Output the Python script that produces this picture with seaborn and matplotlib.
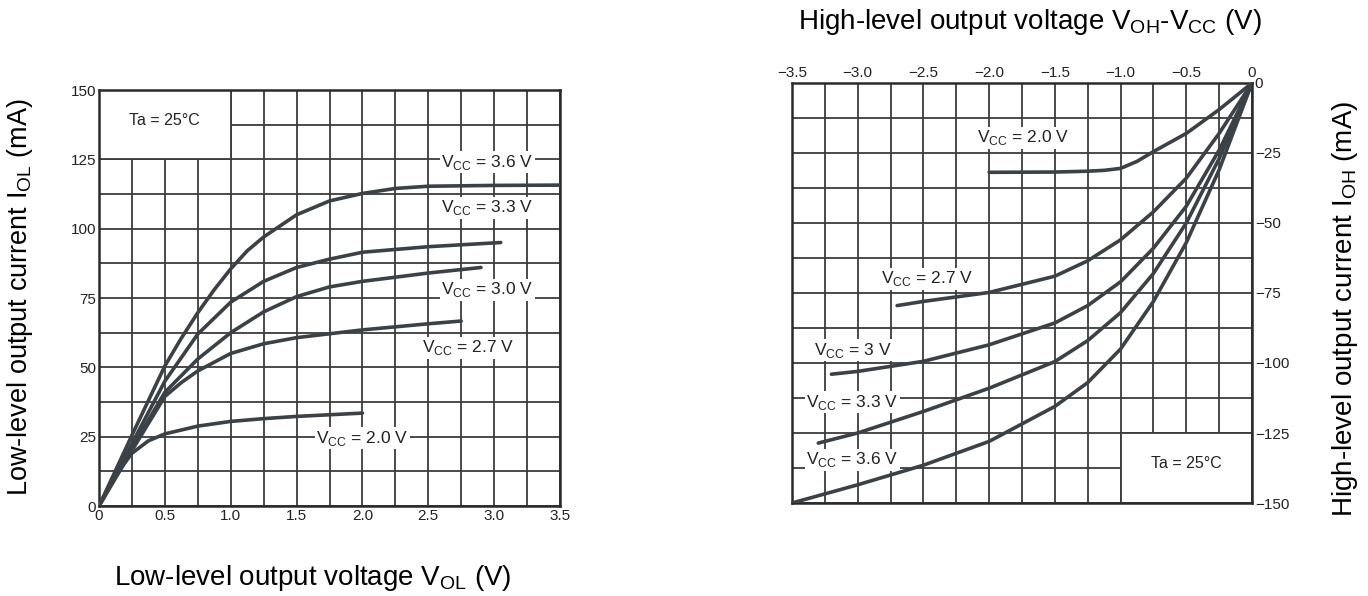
import numpy as np
import pandas as pd
import matplotlib
matplotlib.use("Agg")
import matplotlib.pyplot as plt
from matplotlib.patches import Rectangle
from matplotlib.ticker import MultipleLocator, FixedLocator
import seaborn as sns

# ---------------- data: low-level output (left panel) ----------------
vcc_labels = ["3.6", "3.3", "3.0", "2.7", "2.0"]

vol_36 = [0, 0.25, 0.5, 0.625, 0.75, 0.875, 1.0, 1.125, 1.25, 1.5, 1.75, 2.0, 2.25, 2.5, 3.0, 3.5]
iol_36 = [0, 25.5, 50.5, 60.5, 69.7, 78, 85.5, 92, 97, 105, 110, 112.7, 114.5, 115.3, 115.6, 115.7]
vol_33 = [0, 0.25, 0.5, 0.75, 1.0, 1.25, 1.5, 1.75, 2.0, 2.5, 3.05]
iol_33 = [0, 22.5, 45, 62, 73.5, 81, 86, 89, 91.5, 93.5, 95]
vol_30 = [0, 0.25, 0.5, 0.75, 1.0, 1.25, 1.5, 1.75, 2.0, 2.5, 2.9]
iol_30 = [0, 21, 41, 53, 62.5, 70, 75.5, 79, 81, 84, 86]
vol_27 = [0, 0.25, 0.5, 0.625, 0.75, 1.0, 1.25, 1.5, 2.0, 2.5, 2.75]
iol_27 = [0, 20, 39.5, 44.5, 48.7, 55, 58.5, 60.7, 63.5, 65.7, 66.7]
vol_20 = [0, 0.125, 0.25, 0.375, 0.5, 0.75, 1.0, 1.25, 1.5, 2.0]
iol_20 = [0, 11, 19, 23.5, 26, 28.8, 30.5, 31.5, 32.3, 33.5]

# ---------------- data: high-level output (right panel) ----------------
voh_36 = [-3.5, -3.0, -2.5, -2.0, -1.5, -1.25, -1.0, -0.75, -0.5, -0.25, 0]
ioh_36 = [-150, -143.5, -136.5, -128, -115.5, -107, -95, -78, -57, -31, 0]
voh_33 = [-3.3, -3.0, -2.5, -2.0, -1.5, -1.25, -1.0, -0.75, -0.5, -0.25, 0]
ioh_33 = [-128.6, -125, -117.3, -109, -99.5, -92, -82, -68, -50, -27, 0]
voh_30 = [-3.2, -3.0, -2.5, -2.0, -1.5, -1.25, -1.0, -0.75, -0.5, -0.25, 0]
ioh_30 = [-104, -103, -99.4, -93.5, -85.7, -79.5, -71, -59, -44, -24, 0]
voh_27 = [-2.7, -2.5, -2.0, -1.5, -1.25, -1.0, -0.75, -0.5, -0.25, 0]
ioh_27 = [-79.5, -78, -74.8, -69, -63.5, -56, -46, -34, -18, 0]
voh_20 = [-2.0, -1.5, -1.25, -1.125, -1.0, -0.875, -0.75, -0.5, -0.25, 0]
ioh_20 = [-31.9, -31.8, -31.5, -31.2, -30.5, -28, -24.5, -18, -9.5, 0]

left_ticks_x = [0, 0.5, 1.0, 1.5, 2.0, 2.5, 3.0, 3.5]
left_ticklabels_x = ["0", "0.5", "1.0", "1.5", "2.0", "2.5", "3.0", "3.5"]
left_ticks_y = [0, 25, 50, 75, 100, 125, 150]
right_ticks_x = [-3.5, -3.0, -2.5, -2.0, -1.5, -1.0, -0.5, 0]
right_ticklabels_x = ["\u22123.5", "\u22123.0", "\u22122.5", "\u22122.0", "\u22121.5", "\u22121.0", "\u22120.5", "0"]
right_ticks_y = [0, -25, -50, -75, -100, -125, -150]
right_ticklabels_y = ["0", "\u221225", "\u221250", "\u221275", "\u2212100", "\u2212125", "\u2212150"]

# ---------------- build tables ----------------
left_df = pd.concat([
    pd.DataFrame({"V": v, "I": i, "Vcc": lab})
    for v, i, lab in zip([vol_36, vol_33, vol_30, vol_27, vol_20],
                         [iol_36, iol_33, iol_30, iol_27, iol_20], vcc_labels)
], ignore_index=True)
right_df = pd.concat([
    pd.DataFrame({"V": v, "I": i, "Vcc": lab})
    for v, i, lab in zip([voh_36, voh_33, voh_30, voh_27, voh_20],
                         [ioh_36, ioh_33, ioh_30, ioh_27, ioh_20], vcc_labels)
], ignore_index=True)

# ---------------- style ----------------
sns.set_style("white")
plt.rcParams['font.family'] = ['Liberation Sans', 'DejaVu Sans']
plt.rcParams['mathtext.fontset'] = 'custom'
plt.rcParams['mathtext.rm'] = 'Liberation Sans'
plt.rcParams['axes.unicode_minus'] = True

CURVE = "#3a4147"
GRID = "#3c3c3c"
TXT = "#222222"

fig = plt.figure(figsize=(13.68, 5.96), dpi=100)
axL = fig.add_axes([99 / 1368, 1 - 506 / 596, 461 / 1368, 416 / 596])
axR = fig.add_axes([792 / 1368, 1 - 503 / 596, 460 / 1368, 420 / 596])

pal = {lab: CURVE for lab in vcc_labels}


def style_axes(ax):
    ax.xaxis.set_minor_locator(MultipleLocator(0.25))
    ax.yaxis.set_minor_locator(MultipleLocator(12.5))
    ax.grid(which="both", color=GRID, linewidth=1.3, zorder=1)
    ax.set_axisbelow(True)
    ax.tick_params(which="both", length=0, labelsize=11, colors=TXT, pad=2)
    for s in ax.spines.values():
        s.set_color("#2a2a2a")
        s.set_linewidth(1.8)
        s.set_visible(True)
    ax.set_xlabel("")
    ax.set_ylabel("")


# ---- left panel ----
sns.lineplot(data=left_df, x="V", y="I", hue="Vcc", palette=pal, legend=False,
             sort=False, estimator=None, linewidth=2.6, ax=axL, zorder=4)
axL.set_xlim(0, 3.5)
axL.set_ylim(0, 150)
axL.xaxis.set_major_locator(FixedLocator(left_ticks_x))
axL.set_xticklabels(left_ticklabels_x)
axL.yaxis.set_major_locator(FixedLocator(left_ticks_y))
axL.set_yticklabels([str(t) for t in left_ticks_y])
style_axes(axL)

axL.add_patch(Rectangle((0, 125), 1.0, 25, facecolor="white", edgecolor=GRID,
                        linewidth=1.3, zorder=2))
axL.text(0.5, 139, "Ta = 25\u00b0C", ha="center", va="center", fontsize=11.5, color=TXT, zorder=3)

bbox = dict(facecolor="white", edgecolor="none", pad=1.0)
left_label_pos = [(2.95, 124), (2.95, 107.5), (2.95, 78), (2.8, 57), (2.0, 24.5)]
for lab, (x, y) in zip(vcc_labels, left_label_pos):
    axL.text(x, y, r"V$_{\mathregular{CC}}$ = " + lab + " V", ha="center", va="center",
             fontsize=12.5, color=TXT, bbox=bbox, zorder=3)

# ---- right panel ----
sns.lineplot(data=right_df, x="V", y="I", hue="Vcc", palette=pal, legend=False,
             sort=False, estimator=None, linewidth=2.6, ax=axR, zorder=4)
axR.set_xlim(-3.5, 0)
axR.set_ylim(-150, 0)
axR.xaxis.set_major_locator(FixedLocator(right_ticks_x))
axR.set_xticklabels(right_ticklabels_x)
axR.yaxis.set_major_locator(FixedLocator(right_ticks_y))
axR.set_yticklabels(right_ticklabels_y)
axR.xaxis.tick_top()
axR.yaxis.tick_right()
style_axes(axR)

axR.add_patch(Rectangle((-1.0, -150), 1.0, 25, facecolor="white", edgecolor=GRID,
                        linewidth=1.3, zorder=2))
axR.text(-0.5, -136, "Ta = 25\u00b0C", ha="center", va="center", fontsize=11.5, color=TXT, zorder=3)

right_label_names = ["3.6 V", "3.3 V", "3 V", "2.7 V", "2.0 V"]
right_label_pos = [(-3.04, -134.6), (-3.04, -114), (-3.04, -95.4), (-2.47, -70), (-1.74, -19.6)]
for lab, (x, y) in zip(right_label_names, right_label_pos):
    axR.text(x, y, r"V$_{\mathregular{CC}}$ = " + lab, ha="center", va="center",
             fontsize=12.5, color=TXT, bbox=bbox, zorder=3)

# ---- axis titles ----
fig.text(313 / 1368, 1 - 578 / 596, r"Low-level output voltage V$_{\mathregular{OL}}$ (V)",
         ha="center", va="center", fontsize=20, color="black")
fig.text(20 / 1368, 1 - 297 / 596, r"Low-level output current I$_{\mathregular{OL}}$ (mA)",
         ha="center", va="center", rotation=90, fontsize=19.5, color="black")
fig.text(1030 / 1368, 1 - 22 / 596, r"High-level output voltage V$_{\mathregular{OH}}$-V$_{\mathregular{CC}}$ (V)",
         ha="center", va="center", fontsize=20, color="black")
fig.text(1345 / 1368, 1 - 309 / 596, r"High-level output current I$_{\mathregular{OH}}$ (mA)",
         ha="center", va="center", rotation=90, fontsize=20, color="black")

fig.savefig("out.png", dpi=100, facecolor="white")
